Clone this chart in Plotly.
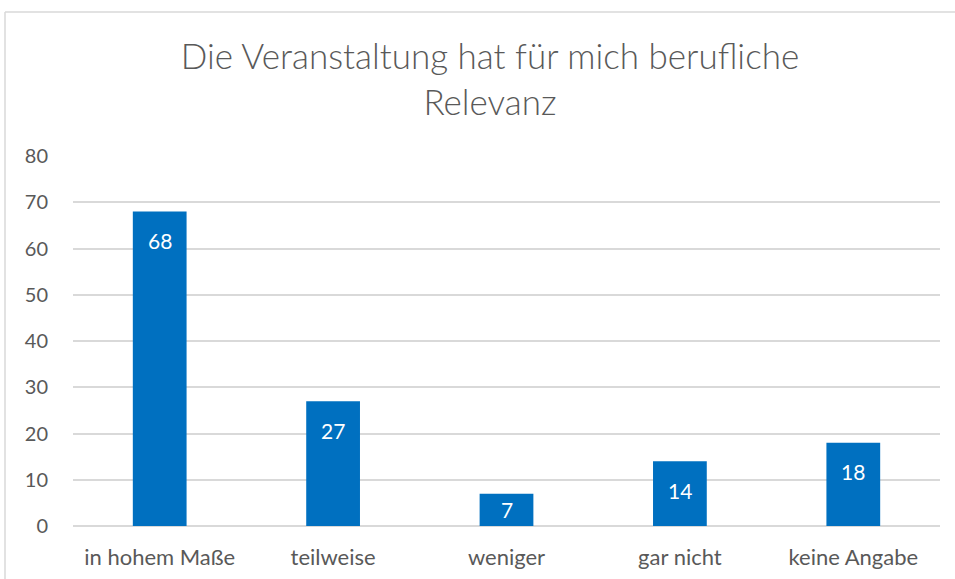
import plotly.graph_objects as go

categories = ["in hohem Maße", "teilweise", "weniger", "gar nicht", "keine Angabe"]
values = [68, 27, 7, 14, 18]
y_ticks = [0, 10, 20, 30, 40, 50, 60, 70, 80]

TEXT = "#595959"
GRID = "#D9D9D9"
BLUE = "#0070C0"
FONT = "Lato"

fig = go.Figure()
fig.add_trace(go.Bar(x=categories, y=values, marker=dict(color=BLUE, line=dict(width=0)),
                     hoverinfo="skip"))

# data labels near top of bars (centered if bar is short)
shift_units = 6.3
for c, v in zip(categories, values):
    yl = max(v - shift_units, v / 2)
    fig.add_annotation(x=c, y=yl, text=str(v), showarrow=False, yanchor="middle",
                       font=dict(family=FONT, size=21, color="white"))

L, R, T, B = 73, 15, 156, 53
W, H = 955, 579
pw, ph = W - L - R, H - T - B
bx = (5 - L) / pw
by = (H - B - 12) / ph
fig.add_shape(type="line", xref="paper", yref="paper", x0=bx, x1=bx, y0=by, y1=-0.3,
              line=dict(color=GRID, width=1.5))
fig.add_shape(type="line", xref="paper", yref="paper", x0=bx, x1=1.1, y0=by, y1=by,
              line=dict(color=GRID, width=1.5))

fig.update_layout(
    width=W, height=H,
    margin=dict(l=L, r=R, t=T, b=B),
    paper_bgcolor="white", plot_bgcolor="white",
    bargap=0.69,
    showlegend=False,
    title=dict(text="Die Veranstaltung hat für mich berufliche<br>Relevanz",
               x=0.513, xanchor="center", y=0.88, yanchor="middle",
               font=dict(family=FONT, size=35, color=TEXT, weight=300)),
    font=dict(family=FONT, size=20, color=TEXT),
    xaxis=dict(showgrid=False, showline=False, ticks="", zeroline=False,
               ticklabelstandoff=16, automargin=False,
               tickfont=dict(family=FONT, size=22, color=TEXT)),
    yaxis=dict(range=[0, 80], tickvals=y_ticks, showgrid=True, gridcolor=GRID, gridwidth=1.5,
               zeroline=True, zerolinecolor=GRID, zerolinewidth=1.5, showline=False,
               ticks="", ticklabelstandoff=24, automargin=False,
               tickfont=dict(family=FONT, size=20, color=TEXT)),
)

fig.write_html("out.html", config={"displayModeBar": False},
               post_script="document.body.style.margin='0';")
